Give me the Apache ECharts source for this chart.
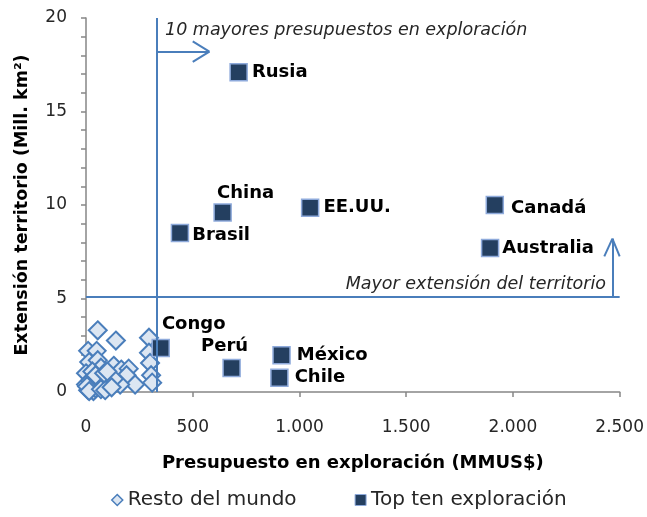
<!DOCTYPE html>
<html>
<head>
<meta charset="utf-8">
<script src="https://cdn.jsdelivr.net/npm/echarts@6/dist/echarts.min.js"></script>
<style>
html,body{margin:0;padding:0;background:#fff;}
#chart{width:647px;height:517px;}
</style>
</head>
<body>
<div id="chart"></div>
<script>
// ---- Data ----
var topNames = ['Rusia','China','EE.UU.','Brasil','Canadá','Australia','Congo','Perú','México','Chile'];
var topBudget = [715, 640, 1050, 440, 1915, 1893, 350, 682, 916, 906];
var topArea   = [17.1, 9.6, 9.85, 8.5, 10.0, 7.7, 2.35, 1.28, 1.96, 0.76];

var restBudget = [55, 140, 295, 10, 50, 295, 15, 55, 130, 165, 200, 300, 70, 0, 105, 190, 305, 310, 230, 160, 0, 20, 40, 60, 80, 95, 110, 130, 10, 25, 35, 45, 5, 15, 70, 90, 120, 30, 45, 85, 100];
var restArea   = [3.3, 2.75, 2.9, 2.2, 2.2, 2.1, 1.6, 1.7, 1.4, 1.2, 1.25, 1.55, 1.3, 1.0, 0.8, 0.9, 0.9, 0.5, 0.4, 0.4, 0.4, 0.6, 0.5, 0.4, 0.5, 0.3, 0.6, 0.7, 0.1, 0.15, 0.05, 0.2, 0.3, 0.05, 0.15, 0.1, 0.25, 1.1, 0.9, 1.0, 1.1];

var xTicks = [0, 500, 1000, 1500, 2000, 2500];
var yTicks = [0, 5, 10, 15, 20];

// annotation thresholds
var budgetThreshold = 332;
var areaThreshold = 5.1;

// label placement per top-ten point (style only)
var labelPos = {
  'Rusia':    {position:'right', distance:4},
  'China':    {position:'top', offset:[23,0], distance:1},
  'EE.UU.':   {position:'right', distance:4},
  'Brasil':   {position:'right', distance:3, offset:[0,2]},
  'Canadá':   {position:'right', distance:7, offset:[0,3]},
  'Australia':{position:'right', distance:3},
  'Congo':    {position:'top', offset:[33,-3], distance:2},
  'Perú':     {position:'top', offset:[-7,-1], distance:2},
  'México':   {position:'right', distance:6},
  'Chile':    {position:'right', distance:6}
};

var FONT = 'DejaVu Sans';

var restData = restBudget.map(function(b,i){ return [b, restArea[i]]; });
var topData = topBudget.map(function(b,i){
  var lp = labelPos[topNames[i]];
  return {
    name: topNames[i],
    value: [b, topArea[i]],
    label: Object.assign({show:true, formatter: topNames[i]}, lp)
  };
});

function fmtThousands(v){
  if (v >= 1000) { var r = v % 1000; return Math.floor(v/1000) + '.' + ('00' + r).slice(-3); }
  return String(v);
}

var lineColor = '#4a7ebb';
var xMax = xTicks[xTicks.length-1], yMax = yTicks[yTicks.length-1];
var markSegs = [
  [{coord:[budgetThreshold, 0]}, {coord:[budgetThreshold, yMax]}],
  [{coord:[0, areaThreshold]}, {coord:[xMax, areaThreshold]}],
  // horizontal arrow
  [{coord:[budgetThreshold, 18.2]}, {coord:[578, 18.2]}],
  [{coord:[500, 18.75]}, {coord:[578, 18.2]}],
  [{coord:[500, 17.65]}, {coord:[578, 18.2]}],
  // vertical arrow
  [{coord:[2466, areaThreshold]}, {coord:[2466, 8.2]}],
  [{coord:[2428, 7.25]}, {coord:[2466, 8.2]}],
  [{coord:[2500, 7.25]}, {coord:[2466, 8.2]}]
];

var chart = echarts.init(document.getElementById('chart'));
chart.setOption({
  animation: false,
  textStyle: {fontFamily: FONT},
  grid: {left: 86, right: 26, top: 18, bottom: 125, containLabel: false},
  xAxis: {
    type: 'value', min: 0, max: xMax, interval: 500,
    name: 'Presupuesto en exploración (MMUS$)', nameLocation: 'middle', nameGap: 62,
    nameTextStyle: {fontFamily: FONT, fontWeight: 'bold', fontSize: 18, color: '#000'},
    axisLine: {show: true, lineStyle: {color: '#868686', width: 1.5}},
    axisTick: {show: true, inside: false, length: 5, lineStyle: {color: '#868686', width: 1.5}},
    axisLabel: {margin: 27, fontSize: 17, color: '#262626', formatter: fmtThousands},
    splitLine: {show: false}
  },
  yAxis: {
    type: 'value', min: 0, max: yMax, interval: 5,
    name: 'Extensión territorio (Mill. km²)', nameLocation: 'middle', nameGap: 55,
    nameRotate: 90,
    nameTextStyle: {fontFamily: FONT, fontWeight: 'bold', fontSize: 17.5, color: '#000'},
    axisLine: {show: true, lineStyle: {color: '#868686', width: 1.5}},
    axisTick: {show: true, inside: false, length: 5, lineStyle: {color: '#868686', width: 1.5}},
    minorTick: {show: true, splitNumber: 5, length: 5, lineStyle: {color: '#868686', width: 1.5}},
    axisLabel: {margin: 19, fontSize: 17, color: '#262626'},
    splitLine: {show: false}
  },
  legend: {
    bottom: 2, left: 106, itemGap: 58, itemWidth: 11, itemHeight: 11,
    textStyle: {fontFamily: FONT, fontSize: 20, color: '#262626'},
    data: [
      {name: 'Resto del mundo', icon: 'diamond', itemStyle: {color: '#dce6f2', borderColor: '#4a7ebb', borderWidth: 1.5}},
      {name: 'Top ten exploración', icon: 'rect', itemStyle: {color: '#243f60', borderColor: '#8eaadb', borderWidth: 1}}
    ]
  },
  series: [
    {
      name: 'Resto del mundo', type: 'scatter', symbol: 'diamond', symbolSize: 18,
      itemStyle: {color: '#dce6f2', borderColor: '#4a7ebb', borderWidth: 2, opacity: 1},
      data: restData, z: 2
    },
    {
      name: 'Top ten exploración', type: 'scatter', symbol: 'rect', symbolSize: 17,
      clip: false,
      itemStyle: {color: '#243f60', borderColor: '#8eaadb', borderWidth: 1.5, opacity: 1},
      label: {fontFamily: FONT, fontWeight: 'bold', fontSize: 18, color: '#000'},
      data: topData, z: 4,
      markLine: {
        silent: true, symbol: ['none','none'], animation: false,
        label: {show: false},
        lineStyle: {color: lineColor, width: 2, type: 'solid'},
        emphasis: {disabled: true},
        data: markSegs
      }
    }
  ],
  graphic: [
    {type: 'text', left: 165, top: 21, z: 10,
     style: {text: '10 mayores presupuestos en exploración', fontFamily: FONT, fontStyle: 'italic', fontSize: 17.5, fill: '#262626'}},
    {type: 'text', right: 41, top: 275, z: 10,
     style: {text: 'Mayor extensión del territorio', fontFamily: FONT, fontStyle: 'italic', fontSize: 17.5, fill: '#262626'}}
  ]
});
</script>
</body>
</html>
